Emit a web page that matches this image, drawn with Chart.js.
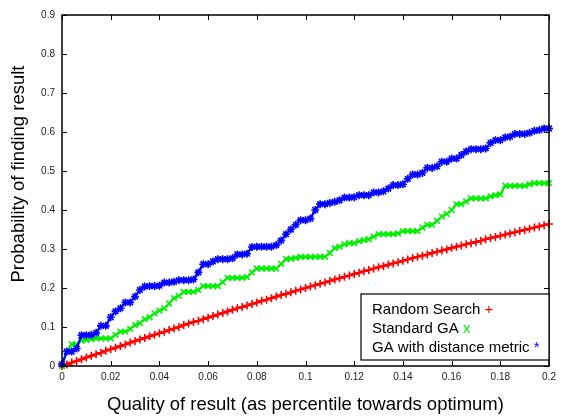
<!DOCTYPE html>
<html><head><meta charset="utf-8">
<script src="https://cdn.jsdelivr.net/npm/chart.js@4/dist/chart.umd.min.js"></script>
<style>html,body{margin:0;padding:0;background:#fff;}</style>
</head><body>
<canvas id="c" width="561" height="416"></canvas>
<script>
// Quality of result (x) sampled values
const quality = [
 0.000,0.002,0.004,0.006,0.008,0.010,0.012,0.014,0.016,0.018,
 0.020,0.022,0.024,0.026,0.028,0.030,0.032,0.034,0.036,0.038,
 0.040,0.042,0.044,0.046,0.048,0.050,0.052,0.054,0.056,0.058,
 0.060,0.062,0.064,0.066,0.068,0.070,0.072,0.074,0.076,0.078,
 0.080,0.082,0.084,0.086,0.088,0.090,0.092,0.094,0.096,0.098,
 0.100,0.102,0.104,0.106,0.108,0.110,0.112,0.114,0.116,0.118,
 0.120,0.122,0.124,0.126,0.128,0.130,0.132,0.134,0.136,0.138,
 0.140,0.142,0.144,0.146,0.148,0.150,0.152,0.154,0.156,0.158,
 0.160,0.162,0.164,0.166,0.168,0.170,0.172,0.174,0.176,0.178,
 0.180,0.182,0.184,0.186,0.188,0.190,0.192,0.194,0.196,0.198,
 0.200];
const randomSearch = [
 0.000,0.004,0.009,0.013,0.017,0.022,0.026,0.030,0.034,0.039,
 0.043,0.047,0.051,0.055,0.060,0.064,0.068,0.072,0.076,0.080,
 0.084,0.088,0.092,0.096,0.100,0.105,0.109,0.113,0.116,0.120,
 0.124,0.128,0.132,0.136,0.140,0.144,0.148,0.151,0.155,0.159,
 0.163,0.167,0.170,0.174,0.178,0.182,0.185,0.189,0.193,0.196,
 0.200,0.204,0.207,0.211,0.214,0.218,0.222,0.225,0.229,0.232,
 0.236,0.239,0.243,0.246,0.250,0.253,0.256,0.260,0.263,0.266,
 0.270,0.273,0.277,0.280,0.283,0.286,0.290,0.293,0.296,0.299,
 0.303,0.306,0.309,0.312,0.315,0.318,0.321,0.325,0.328,0.331,
 0.334,0.337,0.340,0.343,0.346,0.349,0.352,0.355,0.358,0.361,
 0.364];
const standardGA = [
 0.000,0.037,0.056,0.056,0.065,0.067,0.069,0.071,0.071,0.071,
 0.071,0.080,0.088,0.088,0.095,0.105,0.110,0.120,0.125,0.135,
 0.142,0.148,0.160,0.174,0.180,0.190,0.190,0.190,0.195,0.205,
 0.205,0.205,0.205,0.215,0.226,0.226,0.226,0.226,0.228,0.240,
 0.250,0.250,0.250,0.250,0.250,0.262,0.274,0.275,0.277,0.280,
 0.280,0.280,0.280,0.280,0.280,0.290,0.302,0.306,0.312,0.315,
 0.315,0.320,0.323,0.325,0.332,0.338,0.338,0.338,0.338,0.340,
 0.346,0.346,0.346,0.346,0.355,0.362,0.362,0.372,0.383,0.390,
 0.400,0.415,0.415,0.422,0.430,0.430,0.430,0.430,0.435,0.438,
 0.440,0.462,0.462,0.462,0.462,0.462,0.466,0.469,0.469,0.469,
 0.469];
const gaDistance = [
 0.005,0.037,0.037,0.045,0.079,0.079,0.080,0.085,0.103,0.103,
 0.125,0.140,0.148,0.163,0.163,0.178,0.195,0.204,0.205,0.205,
 0.206,0.214,0.214,0.216,0.220,0.220,0.220,0.222,0.240,0.261,
 0.261,0.268,0.274,0.274,0.274,0.276,0.286,0.286,0.288,0.305,
 0.306,0.306,0.306,0.306,0.310,0.322,0.338,0.350,0.362,0.374,
 0.374,0.378,0.400,0.415,0.415,0.418,0.421,0.425,0.432,0.432,
 0.433,0.438,0.438,0.438,0.445,0.445,0.448,0.455,0.464,0.464,
 0.466,0.480,0.491,0.491,0.495,0.508,0.508,0.512,0.524,0.524,
 0.532,0.532,0.541,0.550,0.556,0.556,0.556,0.558,0.572,0.579,
 0.579,0.586,0.588,0.595,0.595,0.595,0.598,0.603,0.605,0.609,
 0.609];
const seriesLabels = ['Random Search', 'Standard GA', 'GA with distance metric'];
const legendSymbols = ['+', 'x', '*'];
const xTicks = [0, 0.02, 0.04, 0.06, 0.08, 0.1, 0.12, 0.14, 0.16, 0.18, 0.2];
const xTickLabels = ['0','0.02','0.04','0.06','0.08','0.1','0.12','0.14','0.16','0.18','0.2'];
const yTicks = [0, 0.1, 0.2, 0.3, 0.4, 0.5, 0.6, 0.7, 0.8, 0.9];
const yTickLabels = ['0','0.1','0.2','0.3','0.4','0.5','0.6','0.7','0.8','0.9'];
const xTitle = 'Quality of result (as percentile towards optimum)';
const yTitle = 'Probability of finding result';

const FONT = "'Liberation Sans', Arial, Helvetica, sans-serif";
const colors = ['#ff0000', '#00f000', '#0000ff'];
const styles = ['cross', 'crossRot', 'star'];

function pts(ys) { return quality.map((x, i) => ({x: x, y: ys[i]})); }
const allSeries = [randomSearch, standardGA, gaDistance];

const frameAndLegend = {
  id: 'frameAndLegend',
  afterDraw(chart) {
    const ctx = chart.ctx;
    const a = chart.chartArea;
    const xs = chart.scales.x, ys = chart.scales.y;
    ctx.save();
    ctx.strokeStyle = '#000';
    ctx.lineWidth = 1;
    ctx.beginPath();
    xTicks.forEach(v => {
      const px = Math.round(xs.getPixelForValue(v)) + 0.5;
      ctx.moveTo(px, a.bottom); ctx.lineTo(px, a.bottom - 5);
      ctx.moveTo(px, a.top); ctx.lineTo(px, a.top + 5);
    });
    yTicks.forEach(v => {
      const py = Math.round(ys.getPixelForValue(v)) + 0.5;
      ctx.moveTo(a.left, py); ctx.lineTo(a.left + 5, py);
      ctx.moveTo(a.right, py); ctx.lineTo(a.right - 5, py);
    });
    ctx.stroke();
    ctx.lineWidth = 1.5;
    ctx.strokeRect(a.left, a.top, a.right - a.left, a.bottom - a.top);
    // legend box
    const bx = 361, by = 294, bw = a.right - 361, bh = 66;
    ctx.fillStyle = '#fff';
    ctx.fillRect(bx, by, bw, bh);
    ctx.lineWidth = 1.2;
    ctx.strokeRect(bx, by, bw, bh);
    ctx.font = '15px ' + FONT;
    ctx.textBaseline = 'alphabetic';
    ctx.textAlign = 'left';
    seriesLabels.forEach((t, i) => {
      const ty = 314 + i * 19;
      ctx.fillStyle = '#000';
      ctx.fillText(t, 372, ty);
      const w = ctx.measureText(t + ' ').width;
      ctx.fillStyle = colors[i];
      ctx.fillText(legendSymbols[i], 372 + w, ty);
    });
    // axis titles
    ctx.fillStyle = '#000';
    ctx.font = '18.5px ' + FONT;
    ctx.textAlign = 'center';
    ctx.textBaseline = 'middle';
    ctx.fillText(xTitle, (a.left + a.right) / 2, 405);
    ctx.translate(18.5, 174);
    ctx.rotate(-Math.PI / 2);
    ctx.fillText(yTitle, 0, 0);
    ctx.restore();
  }
};

new Chart(document.getElementById('c'), {
  type: 'scatter',
  data: {
    datasets: allSeries.map((s, i) => ({
      label: seriesLabels[i],
      data: pts(s),
      pointStyle: styles[i],
      pointRadius: 4,
      pointBorderWidth: 1.6,
      borderColor: colors[i],
      backgroundColor: colors[i],
      showLine: true,
      borderWidth: 2.2,
      order: 3 - i,
      clip: 6
    }))
  },
  options: {
    responsive: false,
    animation: false,
    devicePixelRatio: 1,
    layout: { padding: { top: 15, right: 12, left: 0, bottom: 0 } },
    plugins: { legend: { display: false }, tooltip: { enabled: false } },
    scales: {
      x: {
        type: 'linear', min: 0, max: 0.2,
        afterBuildTicks: s => { s.ticks = xTicks.map(v => ({ value: v })); },
        afterFit: s => { s.height = 50; },
        grid: { display: false, drawTicks: false },
        border: { display: false },
        ticks: {
          padding: 5, color: '#222', font: { family: FONT, size: 10 },
          maxRotation: 0, autoSkip: false,
          callback: (v, i) => xTickLabels[i]
        }
      },
      y: {
        type: 'linear', min: 0, max: 0.9,
        afterBuildTicks: s => { s.ticks = yTicks.map(v => ({ value: v })); },
        afterFit: s => { s.width = 62; },
        grid: { display: false, drawTicks: false },
        border: { display: false },
        ticks: {
          padding: 7, color: '#222', font: { family: FONT, size: 10 },
          autoSkip: false,
          callback: (v, i) => yTickLabels[i]
        }
      }
    }
  },
  plugins: [frameAndLegend]
});
</script>
</body></html>
